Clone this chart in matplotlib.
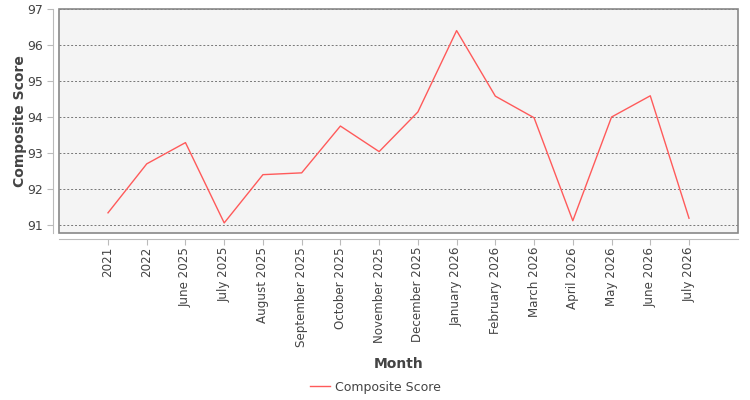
import matplotlib
matplotlib.use("Agg")
import matplotlib.pyplot as plt
from matplotlib.patches import Rectangle

# 月份與綜合分數
months = ["2021", "2022", "June 2025", "July 2025", "August 2025", "September 2025",
          "October 2025", "November 2025", "December 2025", "January 2026",
          "February 2026", "March 2026", "April 2026", "May 2026", "June 2026", "July 2026"]
scores = [91.34, 92.70, 93.29, 91.06, 92.40, 92.45, 93.75, 93.04, 94.14, 96.40,
          94.58, 93.98, 91.12, 94.00, 94.59, 91.19]
yticks = [91, 92, 93, 94, 95, 96, 97]

plt.rcParams['font.family'] = ['DejaVu Sans']

fig = plt.figure(figsize=(7.5, 4), dpi=100)
ax = fig.add_axes([59 / 750, 1 - 233 / 400, (738 - 59) / 750, (233 - 9) / 400])
ax.set_facecolor("#f4f4f4")

x = list(range(len(months)))
ax.plot(x, scores, color="#ff5a5a", linewidth=1.0, label="Composite Score")

ax.set_xlim(-1.265, len(months) - 1 + 1.265)
ax.set_ylim(90.78, 97)
ax.set_xticks(x)
ax.set_xticklabels(months)
ax.set_yticks(yticks)
ax.set_yticklabels([str(v) for v in yticks])

ax.grid(axis="y", linestyle=(0, (2, 2)), color="#777777", linewidth=0.7)
ax.set_axisbelow(True)

# 軸線外移，外框另畫
for side in ["top", "right"]:
    ax.spines[side].set_visible(False)
for side in ["left", "bottom"]:
    ax.spines[side].set_position(("outward", 4))
    ax.spines[side].set_color("#bbbbbb")
ax.tick_params(axis="both", colors="#bbbbbb", labelcolor="#444444", length=4, width=0.8)
ax.tick_params(axis="x", labelrotation=90, labelsize=8.6, pad=2)
ax.tick_params(axis="y", labelsize=9)
ax.add_patch(Rectangle((0, 0), 1, 1, transform=ax.transAxes, fill=False,
                       edgecolor="#888888", linewidth=1.2, clip_on=False, zorder=5))

ax.set_ylabel("Composite Score", fontsize=10, fontweight="bold", color="#444444")
ax.yaxis.set_label_coords(-32 / 679, 0.5)
fig.text(399 / 750, 1 - 364 / 400, "Month", fontsize=10, fontweight="bold",
         color="#444444", ha="center", va="center")

fig.legend(loc="center", bbox_to_anchor=(375 / 750, 1 - 387 / 400), frameon=False,
           fontsize=9, handlelength=1.6, handletextpad=0.4, labelcolor="#444444")

fig.savefig("out.png", dpi=100)
